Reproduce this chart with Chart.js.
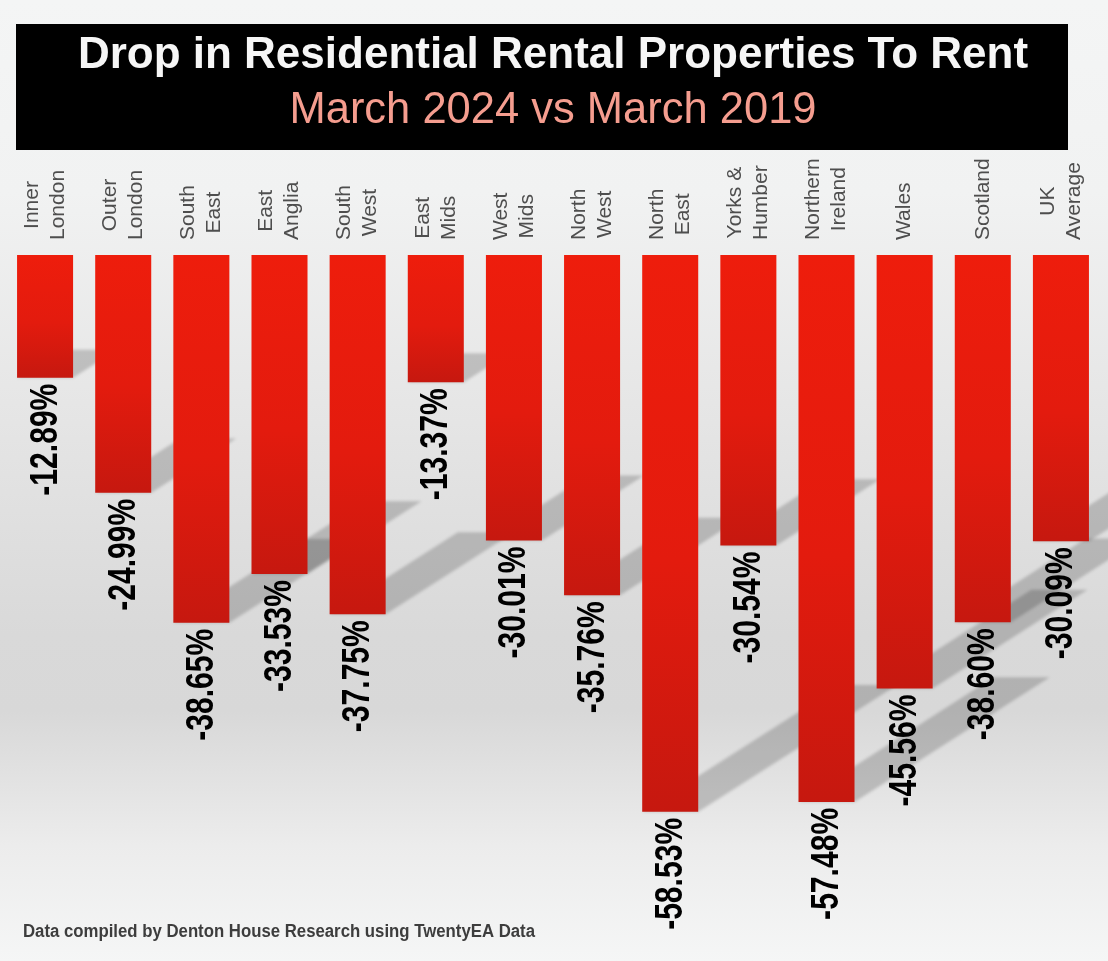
<!DOCTYPE html>
<html>
<head>
<meta charset="utf-8">
<script src="https://cdn.jsdelivr.net/npm/chart.js@4.4.1/dist/chart.umd.min.js"></script>
<style>
  html, body { margin: 0; padding: 0; background: #f4f5f5; }
  #wrap { width: 1108px; height: 961px; }
</style>
</head>
<body>
<div id="wrap"><canvas id="c" width="1108" height="961"></canvas></div>
<script>
// ---- data ----
const regions = [
  ["Inner", "London"], ["Outer", "London"], ["South", "East"], ["East", "Anglia"],
  ["South", "West"], ["East", "Mids"], ["West", "Mids"], ["North", "West"],
  ["North", "East"], ["Yorks &", "Humber"], ["Northern", "Ireland"], ["Wales"],
  ["Scotland"], ["UK", "Average"]
];
const changePct = [-12.89, -24.99, -38.65, -33.53, -37.75, -13.37, -30.01, -35.76,
                   -58.53, -30.54, -57.48, -45.56, -38.60, -30.09];
const titleText = "Drop in Residential Rental Properties To Rent";
const subtitleText = "March 2024 vs March 2019";
const footnoteText = "Data compiled by Denton House Research using TwentyEA Data";

// ---- plugins ----
const backgroundPlugin = {
  id: 'bgPlugin',
  beforeDraw(chart) {
    const ctx = chart.ctx, w = chart.width, h = chart.height;
    ctx.save();
    const g = ctx.createLinearGradient(0, 0, 0, h);
    g.addColorStop(0, '#f4f5f5');
    g.addColorStop(0.2, '#f1f2f2');
    g.addColorStop(0.42, '#e6e6e6');
    g.addColorStop(0.66, '#d9d9d9');
    g.addColorStop(0.74, '#d8d8d8');
    g.addColorStop(0.88, '#ececec');
    g.addColorStop(1, '#f5f6f6');
    ctx.fillStyle = g;
    ctx.fillRect(0, 0, w, h);
    // black title box
    ctx.fillStyle = '#000000';
    ctx.fillRect(16, 24, 1052, 126);
    ctx.restore();
  }
};

const shadowPlugin = {
  id: 'shadowPlugin',
  beforeDatasetsDraw(chart) {
    const ctx = chart.ctx;
    const meta = chart.getDatasetMeta(0);
    ctx.save();
    ctx.filter = 'blur(1.5px)';
    ctx.fillStyle = 'rgba(0,0,0,0.18)';
    meta.data.forEach((el) => {
      const xL = el.x - el.width / 2, xR = el.x + el.width / 2;
      const yB = el.y;
      const len = el.y - el.base;
      const L = 0.357 * len, H = 0.228 * len;
      ctx.beginPath();
      ctx.moveTo(xL, yB);
      ctx.lineTo(xR, yB);
      ctx.lineTo(xR + L, yB - H);
      ctx.lineTo(xL + L, yB - H);
      ctx.closePath();
      ctx.fill();
    });
    ctx.restore();
  }
};

const labelsPlugin = {
  id: 'labelsPlugin',
  afterDatasetsDraw(chart) {
    const ctx = chart.ctx;
    const meta = chart.getDatasetMeta(0);
    const xs = chart.scales.x;
    ctx.save();
    // value labels
    ctx.fillStyle = '#000000';
    ctx.font = 'bold 38px "Liberation Sans Narrow", "Liberation Sans", Arial, sans-serif';
    ctx.textAlign = 'right';
    ctx.textBaseline = 'middle';
    meta.data.forEach((el, i) => {
      const txt = changePct[i].toFixed(2) + '%';
      ctx.save();
      ctx.translate(el.x + 1, el.y + 6);
      ctx.rotate(-Math.PI / 2);
      ctx.fillText(txt, 0, 0, 112);
      ctx.restore();
    });
    // category labels
    ctx.fillStyle = '#4e4e4e';
    ctx.font = '21px "Liberation Sans", Arial, sans-serif';
    ctx.textAlign = 'center';
    ctx.textBaseline = 'middle';
    const lh = 26;
    chart.data.labels.forEach((lab, i) => {
      const lines = Array.isArray(lab) ? lab : [lab];
      const cx = xs.getPixelForValue(i);
      const maxW = Math.max(...lines.map(l => ctx.measureText(l).width));
      const cy = 240 - maxW / 2;
      lines.forEach((line, j) => {
        const lx = cx + (j - (lines.length - 1) / 2) * lh;
        ctx.save();
        ctx.translate(lx, cy);
        ctx.rotate(-Math.PI / 2);
        ctx.fillText(line, 0, 0);
        ctx.restore();
      });
    });
    // footnote
    ctx.fillStyle = '#3d3d3d';
    ctx.font = 'bold 18px "Liberation Sans", Arial, sans-serif';
    ctx.textAlign = 'left';
    ctx.textBaseline = 'alphabetic';
    ctx.fillText(footnoteText, 23, 937, 512);
    ctx.restore();
  }
};

function barGradient(context) {
  const chart = context.chart;
  const ys = chart.scales && chart.scales.y;
  if (!ys || context.dataIndex === undefined) return '#e21b0e';
  const v = changePct[context.dataIndex];
  const y0 = ys.getPixelForValue(0), y1 = ys.getPixelForValue(v);
  if (!isFinite(y0) || !isFinite(y1)) return '#e21b0e';
  const g = chart.ctx.createLinearGradient(0, y0, 0, y1);
  g.addColorStop(0, '#ee1d0c');
  g.addColorStop(0.55, '#e31b0e');
  g.addColorStop(1, '#c6180f');
  return g;
}

new Chart(document.getElementById('c'), {
  type: 'bar',
  data: {
    labels: regions,
    datasets: [{
      data: changePct,
      backgroundColor: barGradient,
      borderWidth: 0,
      barPercentage: 0.717,
      categoryPercentage: 1.0
    }]
  },
  options: {
    responsive: false,
    animation: false,
    devicePixelRatio: 1,
    layout: { padding: { top: 0, left: 6, right: 8, bottom: 40 } },
    plugins: {
      legend: { display: false },
      tooltip: { enabled: false },
      title: {
        display: true,
        text: titleText,
        color: '#f6f6f6',
        font: { family: '"Liberation Sans", Arial, sans-serif', size: 44, weight: 'bold', lineHeight: 1 },
        padding: { top: 34, bottom: 0 }
      },
      subtitle: {
        display: true,
        text: subtitleText,
        color: '#f59d8f',
        font: { family: '"Liberation Sans", Arial, sans-serif', size: 43.5, weight: 'normal', lineHeight: 1 },
        padding: { top: 11, bottom: 17.5 }
      }
    },
    scales: {
      x: {
        type: 'category',
        position: 'top',
        grid: { display: false, drawTicks: false },
        border: { display: false },
        ticks: { display: false },
        afterFit(scale) { scale.height = 105; }
      },
      y: {
        display: false,
        min: -70,
        max: 0
      }
    }
  },
  plugins: [backgroundPlugin, shadowPlugin, labelsPlugin]
});
</script>
</body>
</html>
